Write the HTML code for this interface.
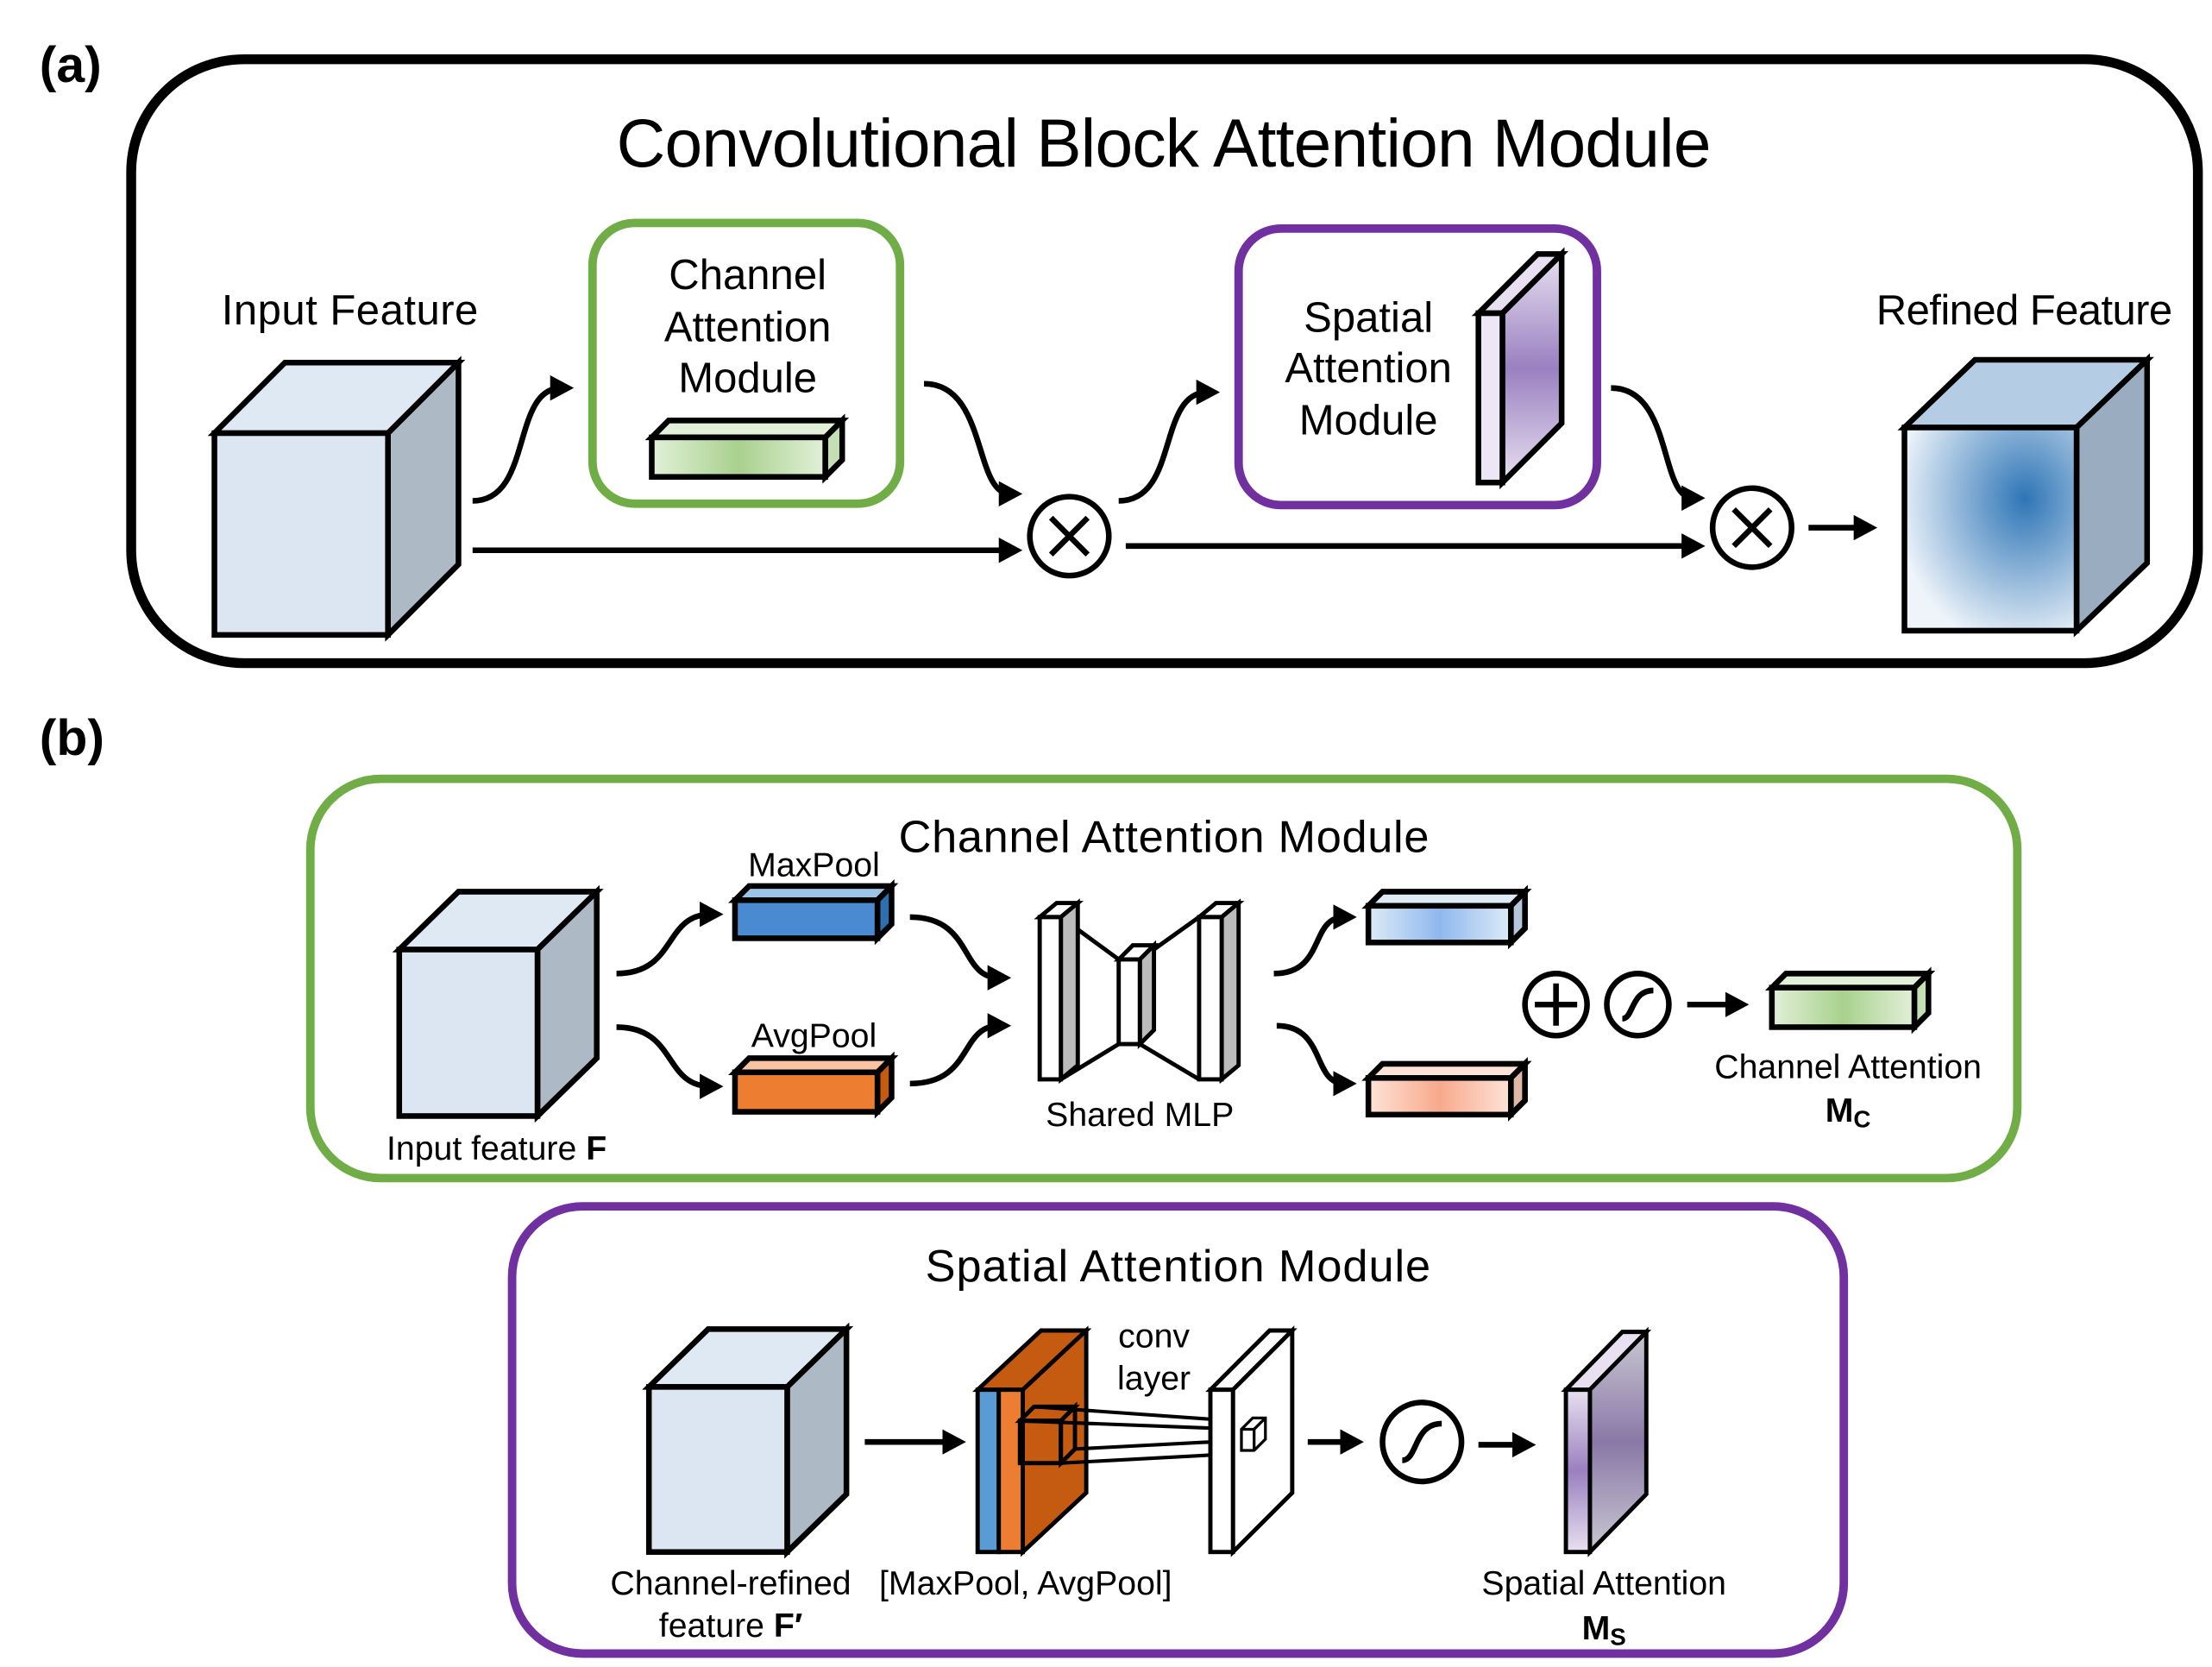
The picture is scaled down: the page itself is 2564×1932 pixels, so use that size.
<!DOCTYPE html>
<html><head><meta charset="utf-8"><style>html,body{margin:0;padding:0;background:#fff}svg{display:block}text{font-family:"Liberation Sans","DejaVu Sans",sans-serif;fill:#000}</style></head>
<body>
<svg width="2564" height="1932" viewBox="0 0 1568 1181.5" preserveAspectRatio="none" xmlns="http://www.w3.org/2000/svg">
<defs>
<marker id="ah" markerWidth="5" markerHeight="5" refX="2" refY="2.25" orient="auto" markerUnits="strokeWidth"><path d="M0,0 L4.2,2.25 L0,4.5 z" fill="#000"/></marker>
<radialGradient id="rg" cx="0.7" cy="0.35" r="0.75"><stop offset="0" stop-color="#2e75b6"/><stop offset="1" stop-color="#eef4fa"/></radialGradient>
<linearGradient id="gg" x1="0" x2="1"><stop offset="0" stop-color="#e2f0d9"/><stop offset="0.5" stop-color="#a9d18e"/><stop offset="1" stop-color="#e2f0d9"/></linearGradient>
<linearGradient id="bg" x1="0" x2="1"><stop offset="0" stop-color="#ddebf7"/><stop offset="0.5" stop-color="#8fb8ee"/><stop offset="1" stop-color="#ddebf7"/></linearGradient>
<linearGradient id="pg" x1="0" x2="1"><stop offset="0" stop-color="#fde3d8"/><stop offset="0.5" stop-color="#f8a98c"/><stop offset="1" stop-color="#fde3d8"/></linearGradient>
<linearGradient id="vg" x1="0" y1="0" x2="0" y2="1"><stop offset="0" stop-color="#e8e0f0"/><stop offset="0.5" stop-color="#9a80c0"/><stop offset="1" stop-color="#e8e0f0"/></linearGradient>
<linearGradient id="vg2" x1="0" y1="0" x2="0" y2="1"><stop offset="0" stop-color="#c8c8d0"/><stop offset="0.5" stop-color="#8a78a8"/><stop offset="1" stop-color="#c8c8d0"/></linearGradient>
</defs>
<g stroke="#000" stroke-width="4" fill="none">
<rect x="93" y="42" width="1465" height="428" rx="80" stroke-width="7"/>
<rect x="420" y="158" width="218" height="199" rx="30" stroke="#70ad47" stroke-width="6"/>
<rect x="878" y="162" width="254" height="196" rx="30" stroke="#7030a0" stroke-width="6"/>
<path d="M152,307 L202,257 L325,257 L275,307 z" fill="#dfe9f3"/>
<path d="M275,307 L325,257 L325,400 L275,450 z" fill="#adb9c5"/>
<rect x="152" y="307" width="123" height="143" fill="#dbe6f2"/>
<path d="M462,310 L474,298 L597,298 L585,310 z" fill="#e2f0d9"/>
<path d="M585,310 L597,298 L597,326 L585,338 z" fill="#c5dfb4"/>
<rect x="462" y="310" width="123" height="28" fill="url(#gg)"/>
<path d="M1048,222 L1090,180 L1107,180 L1065,222 z" fill="#e8e0f0"/>
<path d="M1065,222 L1107,180 L1107,300 L1065,342 z" fill="url(#vg)"/>
<rect x="1048" y="222" width="17" height="120" fill="#ede6f4"/>
<path d="M1350,303 L1400,255 L1522,255 L1472,303 z" fill="#b5cde4"/>
<path d="M1472,303 L1522,255 L1522,399 L1472,447 z" fill="#9aacbf"/>
<rect x="1350" y="303" width="122" height="144" fill="url(#rg)"/>
<path d="M335,355 C378,355 362,275 398,275" marker-end="url(#ah)"/>
<path d="M335,390 L716,390" marker-end="url(#ah)"/>
<path d="M655,272 C700,272 690,350 716,350" marker-end="url(#ah)"/>
<circle cx="758" cy="380" r="28"/>
<path d="M745,367 L771,393 M771,367 L745,393"/>
<path d="M793,355 C836,355 820,278 856,278" marker-end="url(#ah)"/>
<path d="M798,387 L1200,387" marker-end="url(#ah)"/>
<path d="M1142,275 C1186,275 1176,353 1200,353" marker-end="url(#ah)"/>
<circle cx="1242" cy="374" r="28"/>
<path d="M1229,361 L1255,387 M1255,361 L1229,387"/>
<path d="M1282,374 L1322,374" marker-end="url(#ah)"/>
<rect x="220" y="552" width="1210" height="283" rx="50" stroke="#70ad47" stroke-width="6"/>
<rect x="363" y="855" width="944" height="317" rx="50" stroke="#7030a0" stroke-width="6"/>
<path d="M283,673 L325,632 L423,632 L381,673 z" fill="#dfe9f3"/>
<path d="M381,673 L423,632 L423,750 L381,791 z" fill="#adb9c5"/>
<rect x="283" y="673" width="98" height="118" fill="#dbe6f2"/>
<path d="M521,638 L531,628 L632,628 L622,638 z" fill="#9dc3e6"/>
<path d="M622,638 L632,628 L632,655 L622,665 z" fill="#2e6fb0"/>
<rect x="521" y="638" width="101" height="27" fill="#4a8ad0"/>
<path d="M521,760 L531,750 L632,750 L622,760 z" fill="#f8c4a2"/>
<path d="M622,760 L632,750 L632,778 L622,788 z" fill="#c55a11"/>
<rect x="521" y="760" width="101" height="28" fill="#ed7d31"/>
<path d="M437,690 C480,690 470,648 504,648" marker-end="url(#ah)"/>
<path d="M437,728 C480,728 470,770 504,770" marker-end="url(#ah)"/>
<path d="M645,650 C690,650 680,693 708,693" marker-end="url(#ah)"/>
<path d="M645,768 C690,768 680,727 708,727" marker-end="url(#ah)"/>
<path d="M752,650 L793,680 M752,765 L793,740 M808,680 L850,650 M808,740 L850,765" stroke-width="3"/>
<path d="M737,650 L749,640 L764,640 L752,650 z" fill="#fff" stroke-width="3"/><path d="M752,650 L764,640 L764,755 L752,765 z" fill="#bbb" stroke-width="3"/><rect x="737" y="650" width="15" height="115" fill="#fff" stroke-width="3"/>
<path d="M793,680 L803,670 L818,670 L808,680 z" fill="#fff" stroke-width="3"/><path d="M808,680 L818,670 L818,730 L808,740 z" fill="#bbb" stroke-width="3"/><rect x="793" y="680" width="15" height="60" fill="#fff" stroke-width="3"/>
<path d="M850,650 L862,640 L878,640 L866,650 z" fill="#fff" stroke-width="3"/><path d="M866,650 L878,640 L878,755 L866,765 z" fill="#bbb" stroke-width="3"/><rect x="850" y="650" width="16" height="115" fill="#fff" stroke-width="3"/>
<path d="M903,690 C940,690 928,650 953,650" marker-end="url(#ah)"/>
<path d="M905,727 C940,727 930,768 953,768" marker-end="url(#ah)"/>
<path d="M970,642 L980,632 L1081,632 L1071,642 z" fill="#ddebf7"/><path d="M1071,642 L1081,632 L1081,658 L1071,668 z" fill="#b4c7dc"/><rect x="970" y="642" width="101" height="26" fill="url(#bg)"/>
<path d="M970,764 L980,754 L1081,754 L1071,764 z" fill="#fde3d8"/><path d="M1071,764 L1081,754 L1081,780 L1071,790 z" fill="#e0b8a8"/><rect x="970" y="764" width="101" height="26" fill="url(#pg)"/>
<circle cx="1103" cy="712" r="22"/><path d="M1088,712 L1118,712 M1103,697 L1103,727"/>
<circle cx="1161" cy="712" r="22"/><path d="M1150,722 C1158,722 1156,702 1172,702"/>
<path d="M1196,712 L1231,712" marker-end="url(#ah)"/>
<path d="M1256,700 L1266,690 L1367,690 L1357,700 z" fill="#e2f0d9"/><path d="M1357,700 L1367,690 L1367,718 L1357,728 z" fill="#c5dfb4"/><rect x="1256" y="700" width="101" height="28" fill="url(#gg)"/>
<path d="M460,983 L502,942 L600,942 L558,983 z" fill="#dfe9f3"/>
<path d="M558,983 L600,942 L600,1059 L558,1100 z" fill="#adb9c5"/>
<rect x="460" y="983" width="98" height="117" fill="#dbe6f2"/>
<path d="M613,1022 L676,1022" marker-end="url(#ah)"/>
<path d="M693,985 L738,943 L770,943 L725,985 z" fill="#c55a11" stroke-width="3"/>
<path d="M725,985 L770,943 L770,1058 L725,1100 z" fill="#c55a11" stroke-width="3"/>
<rect x="693" y="985" width="15" height="115" fill="#5b9bd5" stroke-width="3"/>
<rect x="708" y="985" width="17" height="115" fill="#ed7d31" stroke-width="3"/>
<path d="M723,1007 L733,997 L762,997 L752,1007 z M752,1007 L762,997 L762,1027 L752,1037 z" stroke-width="3"/>
<rect x="723" y="1007" width="29" height="30" stroke-width="3"/>
<path d="M733,997 L888,1008 M762,1027 L897,1020 M752,1037 L882,1030 M723,1007 L880,1013" stroke-width="2.5"/>
<path d="M858,985 L900,943 L916,943 L874,985 z" fill="#fff" stroke-width="3"/>
<path d="M874,985 L916,943 L916,1058 L874,1100 z" fill="#fff" stroke-width="3"/>
<rect x="858" y="985" width="16" height="115" fill="#fff" stroke-width="3"/>
<path d="M880,1013 L888,1005 L897,1005 L897,1020 L889,1028 L880,1028 z M880,1013 L889,1013 L897,1005 M889,1013 L889,1028" stroke-width="2"/>
<path d="M927,1022 L958,1022" marker-end="url(#ah)"/>
<circle cx="1008" cy="1022" r="28"/><path d="M994,1035 C1005,1035 1002,1009 1022,1009"/>
<path d="M1048,1024 L1080,1024" marker-end="url(#ah)"/>
<path d="M1110,985 L1150,944 L1167,944 L1127,985 z" fill="#e8e0f0" stroke-width="3"/>
<path d="M1127,985 L1167,944 L1167,1059 L1127,1100 z" fill="url(#vg2)" stroke-width="3"/>
<rect x="1110" y="985" width="17" height="115" fill="url(#vg)" stroke-width="3"/>
</g>
<g font-size="30" text-anchor="middle">
<text x="28" y="58" font-size="36" font-weight="bold" text-anchor="start">(a)</text>
<text x="28" y="535" font-size="36" font-weight="bold" text-anchor="start">(b)</text>
<text x="825" y="118" font-size="48" textLength="776">Convolutional Block Attention Module</text>
<text x="248" y="230" textLength="182">Input Feature</text>
<text x="1435" y="230" textLength="210">Refined Feature</text>
<text x="530" y="205">Channel</text><text x="530" y="242">Attention</text><text x="530" y="278">Module</text>
<text x="970" y="235">Spatial</text><text x="970" y="271">Attention</text><text x="970" y="308">Module</text>
<text x="825" y="604" font-size="32" textLength="376">Channel Attention Module</text>
<text x="835" y="908" font-size="32" textLength="358">Spatial Attention Module</text>
</g>
<g font-size="24" text-anchor="middle">
<text x="352" y="822">Input feature <tspan font-weight="bold">F</tspan></text>
<text x="577" y="621">MaxPool</text><text x="577" y="742">AvgPool</text>
<text x="808" y="798">Shared MLP</text>
<text x="1310" y="764">Channel Attention</text>
<text x="1310" y="795" font-weight="bold">M<tspan font-size="17" dy="4">C</tspan></text>
<text x="818" y="955">conv</text><text x="818" y="985">layer</text>
<text x="518" y="1130">Channel-refined</text>
<text x="518" y="1160">feature <tspan font-weight="bold">F′</tspan></text>
<text x="727" y="1130">[MaxPool, AvgPool]</text>
<text x="1137" y="1130">Spatial Attention</text>
<text x="1137" y="1162" font-weight="bold">M<tspan font-size="17" dy="4">S</tspan></text>
</g>
</svg>
</body></html>
